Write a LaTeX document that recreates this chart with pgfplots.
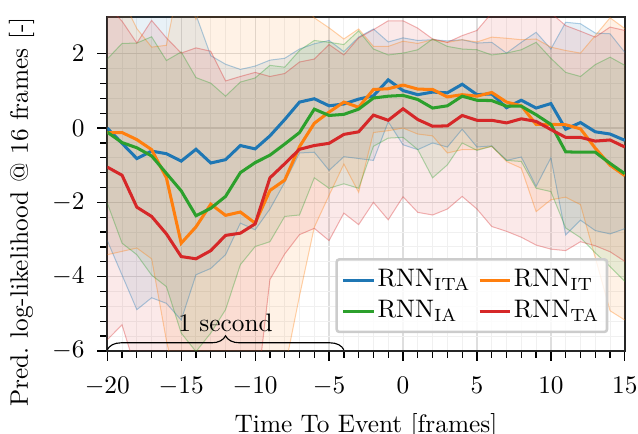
\documentclass[border=0pt]{standalone}
\usepackage{pgfplots}
\usepackage{pgfplotstable}
\pgfplotsset{compat=1.18}
\usepgfplotslibrary{fillbetween}
\usetikzlibrary{decorations.pathreplacing}

\definecolor{cITA}{HTML}{1F77B4}
\definecolor{cIT}{HTML}{FF7F0E}
\definecolor{cIA}{HTML}{2CA02C}
\definecolor{cTA}{HTML}{D62728}

\pgfplotstableread{
x mean lo hi
-20 0.00 -3.03 3.6
-19 -0.41 -3.96 3.5
-18 -0.82 -4.89 3.4
-17 -0.62 -4.57 3.3
-16 -0.69 -4.72 3.4
-15 -0.89 -5.17 3.4
-14 -0.57 -3.95 3.05
-13 -0.94 -3.78 1.95
-12 -0.85 -3.41 1.72
-11 -0.47 -2.56 1.58
-10 -0.56 -2.74 1.67
-9 -0.21 -2.18 1.83
-8 0.23 -1.46 1.88
-7 0.70 -0.67 2.13
-6 0.79 -0.65 2.27
-5 0.60 -1.14 2.36
-4 0.65 -0.77 2.06
-3 0.78 -0.82 2.45
-2 0.87 -0.87 2.67
-1 1.30 0.17 2.32
0 1.01 -0.45 2.43
1 0.90 -0.58 2.36
2 0.97 -0.40 2.38
3 0.95 -0.51 2.35
4 1.18 -0.03 2.38
5 0.90 -0.51 2.29
6 0.92 -0.48 2.31
7 0.55 -0.87 2.02
8 0.75 -0.78 2.31
9 0.54 -1.57 2.58
10 0.66 -0.80 2.13
11 -0.03 -2.88 2.85
12 0.15 -2.48 2.81
13 -0.10 -2.76 2.56
14 -0.16 -2.85 2.54
15 -0.33 -2.71 2.04
}\ITA

\pgfplotstableread{
x mean lo hi
-20 -0.12 -3.41 3.8
-19 -0.12 -3.32 3.5
-18 -0.31 -3.23 2.68
-17 -0.58 -3.52 2.18
-16 -1.34 -5.72 2.23
-15 -3.10 -7.5 4.2
-14 -2.66 -7.5 2.93
-13 -2.05 -7.5 3.6
-12 -2.35 -7.5 4.0
-11 -2.26 -7.5 4.0
-10 -2.56 -7.5 4.0
-9 -1.68 -7.5 4.0
-8 -1.40 -6.5 3.8
-7 -0.50 -4.52 3.5
-6 0.13 -2.67 2.97
-5 0.43 -1.81 2.70
-4 0.70 -0.97 2.40
-3 0.56 -1.73 2.67
-2 1.04 -0.12 2.20
-1 1.06 -0.07 2.20
0 1.16 0.00 2.34
1 1.05 -0.16 2.28
2 1.04 -0.21 2.38
3 0.84 -0.67 2.31
4 0.90 -0.58 2.38
5 0.86 -0.58 2.32
6 0.96 -0.49 2.45
7 0.70 -0.90 2.42
8 0.60 -1.08 2.38
9 0.10 -2.25 2.40
10 0.10 -1.93 2.18
11 0.09 -1.86 2.09
12 -0.02 -2.06 2.02
13 -0.54 -3.49 2.49
14 -1.00 -4.92 2.97
15 -1.28 -5.17 2.68
}\IT

\pgfplotstableread{
x mean lo hi
-20 -0.11 -2.02 1.86
-19 -0.39 -3.10 2.28
-18 -0.53 -3.41 2.29
-17 -0.75 -3.96 2.46
-16 -1.22 -4.27 1.82
-15 -1.69 -5.52 2.05
-14 -2.36 -6.02 1.36
-13 -2.16 -5.52 1.21
-12 -1.84 -4.89 0.86
-11 -1.20 -3.68 1.24
-10 -0.93 -3.19 1.35
-9 -0.73 -3.06 1.69
-8 -0.43 -2.38 1.64
-7 -0.12 -2.34 2.09
-6 0.51 -1.34 2.36
-5 0.34 -1.62 2.31
-4 0.37 -1.50 2.25
-3 0.51 -1.62 2.62
-2 0.81 -0.49 2.13
-1 0.86 -0.27 1.97
0 0.88 -0.25 2.02
1 0.77 -0.58 2.11
2 0.54 -1.34 2.40
3 0.60 -0.99 2.20
4 0.86 -0.40 2.13
5 0.75 -0.60 2.11
6 0.74 -0.49 1.97
7 0.59 -0.87 2.02
8 0.59 -0.90 2.11
9 0.36 -1.62 2.31
10 0.10 -1.71 1.88
11 -0.64 -2.69 1.50
12 -0.65 -2.95 1.39
13 -0.65 -3.36 1.71
14 -0.95 -3.73 1.91
15 -1.23 -4.13 1.69
}\IA

\pgfplotstableread{
x mean lo hi
-20 -1.05 -5.70 3.3
-19 -1.27 -5.30 2.88
-18 -2.13 -6.6 2.29
-17 -2.38 -7.5 2.90
-16 -2.85 -8 2.43
-15 -3.46 -8 2.02
-14 -3.52 -8 2.16
-13 -3.30 -8 2.07
-12 -2.89 -8 1.27
-11 -2.83 -8 1.39
-10 -2.58 -7.5 1.50
-9 -1.34 -4.08 1.39
-8 -0.96 -3.39 1.47
-7 -0.57 -2.87 1.78
-6 -0.47 -2.70 1.86
-5 -0.41 -3.03 2.25
-4 -0.17 -2.29 1.97
-3 -0.10 -2.60 2.43
-2 0.35 -2.00 2.65
-1 0.21 -2.47 2.89
0 0.52 -1.85 2.89
1 0.23 -2.27 2.69
2 0.05 -2.34 2.40
3 0.06 -2.18 2.31
4 0.34 -1.84 2.49
5 0.21 -2.18 2.63
6 0.21 -2.65 3.10
7 0.14 -2.78 3.4
8 0.25 -2.94 3.5
9 0.18 -3.15 3.4
10 -0.04 -3.26 3.1
11 -0.25 -3.30 2.76
12 -0.25 -3.06 2.61
13 -0.35 -3.17 2.45
14 -0.32 -3.33 2.72
15 -0.51 -3.59 2.63
}\TA

\begin{document}
\begin{tikzpicture}
\begin{axis}[
  scale only axis,
  width=204.6pt, height=132.1pt,
  xmin=-20, xmax=15, ymin=-6, ymax=3,
  xtick={-20,-15,-10,-5,0,5,10,15},
  ytick={-6,-4,-2,0,2},
  minor x tick num=4,
  minor y tick num=4,
  tick pos=left,
  tick align=outside,
  major tick length=4pt,
  minor tick length=2.8pt,
  every tick/.style={black, line width=0.5pt},
  axis line style={black!85, line width=0.7pt},
  grid=both,
  major grid style={black!13, line width=0.5pt},
  minor grid style={black!6, line width=0.4pt},
  xticklabel shift=3pt,
  yticklabel shift=1.5pt,
  xlabel={Time To Event [frames]},
  ylabel={Pred.\ log-likelihood @ 16 frames [-]},
  ylabel style={at={(axis description cs:0,0.416)}, anchor=north, yshift=39.1pt, inner sep=0pt},
  label style={font=\fontsize{10}{12}\selectfont},
  tick label style={font=\fontsize{9.6}{11}\selectfont},
  legend columns=2,
  legend cell align=left,
  legend style={at={(0.968,0.053)}, anchor=south east, draw=black!20,
    line width=1pt, fill=white, fill opacity=0.8, text opacity=1,
    rounded corners=1pt, inner sep=2pt,
    nodes={inner xsep=1pt, inner ysep=2pt},
    font=\fontsize{10}{12}\selectfont,
    /tikz/every even column/.append style={column sep=2pt}},
  legend image code/.code={\draw[#1, line width=1.2pt] (0cm,0cm) -- (0.42cm,0cm);},
]
% bands
\addplot[overlay, name path=aU, draw=cITA, draw opacity=0.35, line width=0.4pt, forget plot] table[x=x,y=hi]{\ITA};
\addplot[overlay, name path=aL, draw=cITA, draw opacity=0.35, line width=0.4pt, forget plot] table[x=x,y=lo]{\ITA};
\addplot[overlay, fill=cITA, fill opacity=0.1, draw=none, forget plot] fill between[of=aU and aL];

\addplot[overlay, name path=bU, draw=cIT, draw opacity=0.35, line width=0.4pt, forget plot] table[x=x,y=hi]{\IT};
\addplot[overlay, name path=bL, draw=cIT, draw opacity=0.35, line width=0.4pt, forget plot] table[x=x,y=lo]{\IT};
\addplot[overlay, fill=cIT, fill opacity=0.1, draw=none, forget plot] fill between[of=bU and bL];

\addplot[overlay, name path=cU, draw=cIA, draw opacity=0.35, line width=0.4pt, forget plot] table[x=x,y=hi]{\IA};
\addplot[overlay, name path=cL, draw=cIA, draw opacity=0.35, line width=0.4pt, forget plot] table[x=x,y=lo]{\IA};
\addplot[overlay, fill=cIA, fill opacity=0.1, draw=none, forget plot] fill between[of=cU and cL];

\addplot[overlay, name path=dU, draw=cTA, draw opacity=0.35, line width=0.4pt, forget plot] table[x=x,y=hi]{\TA};
\addplot[overlay, name path=dL, draw=cTA, draw opacity=0.35, line width=0.4pt, forget plot] table[x=x,y=lo]{\TA};
\addplot[overlay, fill=cTA, fill opacity=0.1, draw=none, forget plot] fill between[of=dU and dL];

% means
\addplot[cITA, line width=1.2pt] table[x=x,y=mean]{\ITA};
\addlegendentry{RNN\textsubscript{ITA}}
\addplot[cIT, line width=1.2pt] table[x=x,y=mean]{\IT};
\addlegendentry{RNN\textsubscript{IT}}
\addplot[cIA, line width=1.2pt] table[x=x,y=mean]{\IA};
\addlegendentry{RNN\textsubscript{IA}}
\addplot[cTA, line width=1.2pt] table[x=x,y=mean]{\TA};
\addlegendentry{RNN\textsubscript{TA}}

\draw[decorate, decoration={brace, amplitude=5.5pt}, black, line width=0.45pt]
  (axis cs:-20,-5.97) -- (axis cs:-4,-5.97)
  node[midway, above=6.8pt, inner sep=0pt, font=\fontsize{10}{12}\selectfont] {1 second};
\end{axis}
\pgfresetboundingbox
\useasboundingbox (-42.4pt,-32.8pt) rectangle (209.8pt,138.7pt);
\end{tikzpicture}
\end{document}
